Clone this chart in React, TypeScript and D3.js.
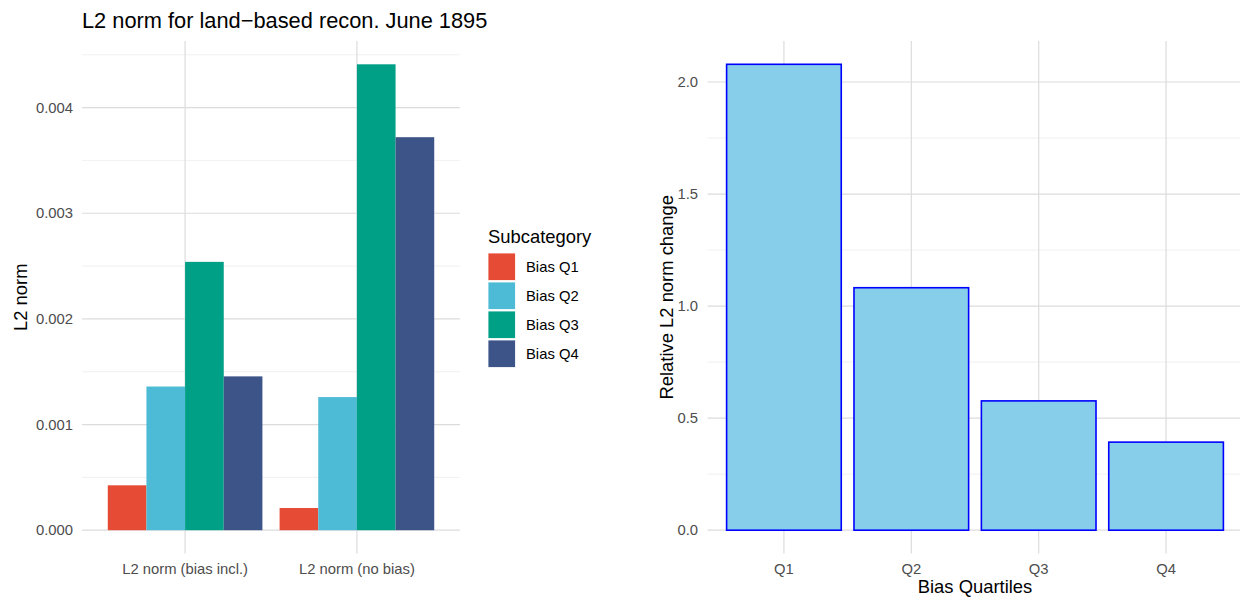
import React from "react";
import * as d3 from "d3";

const categories = ["L2 norm (bias incl.)", "L2 norm (no bias)"];
const subcategories = ["Bias Q1", "Bias Q2", "Bias Q3", "Bias Q4"];
const valuesBiasIncl = [0.000425, 0.00136, 0.00254, 0.001456];
const valuesNoBias = [0.00021, 0.00126, 0.00441, 0.00372];
const subColors = ["#E64B35", "#4DBBD5", "#00A087", "#3C5488"];
const leftTicks = [0, 0.001, 0.002, 0.003, 0.004];
const leftMinor = [0.0005, 0.0015, 0.0025, 0.0035, 0.0045];

const quartiles = ["Q1", "Q2", "Q3", "Q4"];
const relChange = [2.079, 1.082, 0.577, 0.393];
const rightTicks = [0, 0.5, 1.0, 1.5, 2.0];
const rightMinor = [0.25, 0.75, 1.25, 1.75];

const FONT = "'Liberation Sans', Arial, Helvetica, sans-serif";
const MAJOR = "#dcdcdc";
const MINOR = "#ececec";
const TXT = "#4d4d4d";
const TICK_FS = 14.8;
const AXT_FS = 18.4;

export default function App() {
  const top = 41;
  const bottom = 553.5;

  // Left panel
  const lx0 = 82, lx1 = 460;
  const series = [valuesBiasIncl, valuesNoBias];
  const lmax = d3.max(series.flat()) as number;
  const ly = d3.scaleLinear().domain([-0.05 * lmax, lmax * 1.05]).range([bottom, top]);
  const step = (lx1 - lx0) / (categories.length - 1 + 1.2);
  const center = (i: number) => lx0 + 0.6 * step + i * step;
  const groupW = 0.9 * step;
  const sub = d3.scaleBand().domain(subcategories).range([-groupW / 2, groupW / 2]).padding(0);

  // Right panel
  const rx0 = 707.5, rx1 = 1242.5;
  const rmax = d3.max(relChange) as number;
  const ry = d3.scaleLinear().domain([-0.05 * rmax, rmax * 1.05]).range([bottom, top]);
  const rstep = (rx1 - rx0) / (quartiles.length - 1 + 1.2);
  const rcenter = (i: number) => rx0 + 0.6 * rstep + i * rstep;
  const rbw = 0.9 * rstep;

  const fmt3 = d3.format(".3f");
  const fmt1 = d3.format(".1f");

  return (
    <svg width={1240} height={597} style={{ position: "absolute", left: 0, top: 0, background: "#fff" }} fontFamily={FONT}>
      {/* Left title */}
      <text x={82} y={28} fontSize={21.8} fill="#000">L2 norm for land−based recon. June 1895</text>

      {/* Left grid */}
      {leftMinor.map((t) => (
        <line key={"lm" + t} x1={lx0} x2={lx1} y1={ly(t)} y2={ly(t)} stroke={MINOR} strokeWidth={0.8} />
      ))}
      {leftTicks.map((t) => (
        <line key={"lM" + t} x1={lx0} x2={lx1} y1={ly(t)} y2={ly(t)} stroke={MAJOR} strokeWidth={1.2} />
      ))}
      {categories.map((c, i) => (
        <line key={"lv" + c} x1={center(i)} x2={center(i)} y1={top} y2={bottom} stroke={MAJOR} strokeWidth={1.2} />
      ))}
      {/* Left bars */}
      {categories.map((c, i) =>
        subcategories.map((s, j) => {
          const v = series[i][j];
          const x = center(i) + (sub(s) as number);
          return (
            <rect key={c + s} x={x} y={ly(v)} width={sub.bandwidth()} height={ly(0) - ly(v)} fill={subColors[j]} />
          );
        })
      )}
      {/* Left y labels */}
      {leftTicks.map((t) => (
        <text key={"ly" + t} x={73} y={ly(t)} dy="0.35em" textAnchor="end" fontSize={TICK_FS} fill={TXT}>{fmt3(t)}</text>
      ))}
      {categories.map((c, i) => (
        <text key={"lx" + c} x={center(i)} y={574} textAnchor="middle" fontSize={TICK_FS} fill={TXT}>{c}</text>
      ))}
      <text transform={`translate(27,${(top + bottom) / 2}) rotate(-90)`} textAnchor="middle" fontSize={AXT_FS} fill="#000">L2 norm</text>

      {/* Legend */}
      <text x={488} y={243} fontSize={AXT_FS} fill="#000">Subcategory</text>
      {subcategories.map((s, j) => (
        <g key={"lg" + s}>
          <rect x={488} y={253 + j * 29} width={27.5} height={27.5} fill={subColors[j]} stroke="#fff" strokeWidth={0.8} />
          <text x={526} y={253 + j * 29 + 14} dy="0.35em" fontSize={TICK_FS} fill="#000">{s}</text>
        </g>
      ))}

      {/* Right grid */}
      {rightMinor.map((t) => (
        <line key={"rm" + t} x1={rx0} x2={rx1} y1={ry(t)} y2={ry(t)} stroke={MINOR} strokeWidth={0.8} />
      ))}
      {rightTicks.map((t) => (
        <line key={"rM" + t} x1={rx0} x2={rx1} y1={ry(t)} y2={ry(t)} stroke={MAJOR} strokeWidth={1.2} />
      ))}
      {quartiles.map((q, i) => (
        <line key={"rv" + q} x1={rcenter(i)} x2={rcenter(i)} y1={top} y2={bottom} stroke={MAJOR} strokeWidth={1.2} />
      ))}
      {quartiles.map((q, i) => (
        <rect key={"rb" + q} x={rcenter(i) - rbw / 2} y={ry(relChange[i])} width={rbw} height={ry(0) - ry(relChange[i])} fill="#87CEEB" stroke="#0000FF" strokeWidth={1.6} />
      ))}
      {rightTicks.map((t) => (
        <text key={"ry" + t} x={698} y={ry(t)} dy="0.35em" textAnchor="end" fontSize={TICK_FS} fill={TXT}>{fmt1(t)}</text>
      ))}
      {quartiles.map((q, i) => (
        <text key={"rx" + q} x={rcenter(i)} y={574} textAnchor="middle" fontSize={TICK_FS} fill={TXT}>{q}</text>
      ))}
      <text x={(rx0 + rx1) / 2} y={593} textAnchor="middle" fontSize={AXT_FS} fill="#000">Bias Quartiles</text>
      <text transform={`translate(673,${(top + bottom) / 2}) rotate(-90)`} textAnchor="middle" fontSize={AXT_FS} fill="#000">Relative L2 norm change</text>
    </svg>
  );
}
